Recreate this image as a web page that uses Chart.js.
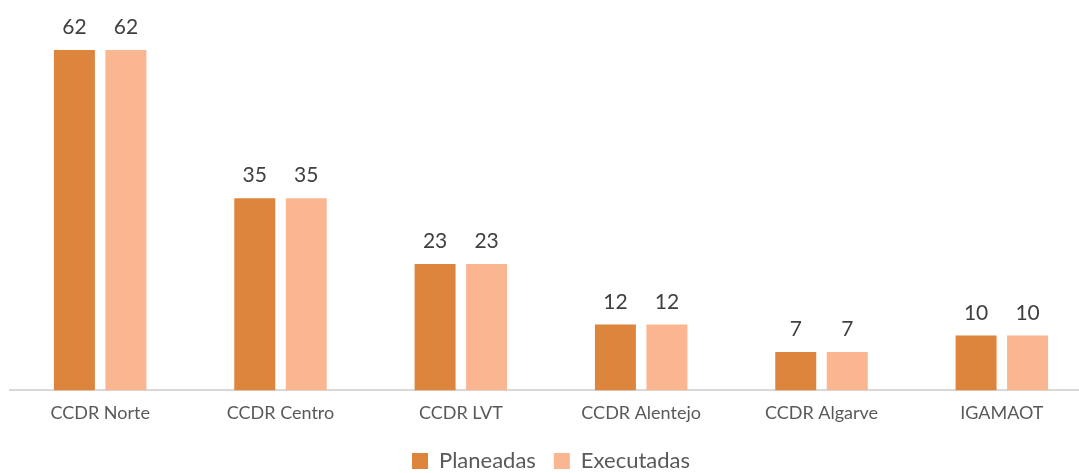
<!DOCTYPE html>
<html>
<head>
<meta charset="utf-8">
<script src="https://cdn.jsdelivr.net/npm/chart.js@4"></script>
<style>
    html, body { margin: 0; padding: 0; background: #fff; overflow: hidden; }
    /* the original chart is cut on the right and bottom, so the canvas is bigger than the window */
    #wrap { width: 1092px; height: 482px; position: relative; }
</style>
</head>
<body>
<div id="wrap"><canvas id="fiscChart"></canvas></div>
<script>
// categorias e valores
var categories = ['CCDR Norte', 'CCDR Centro', 'CCDR LVT', 'CCDR Alentejo', 'CCDR Algarve', 'IGAMAOT'];
var planeadas = [62, 35, 23, 12, 7, 10];
var executadas = [62, 35, 23, 12, 7, 10];

var fontFamily = 'Lato, "Open Sans", sans-serif';

//plugin to write the value on top of each bar
var valueLabels = {
    id: 'valueLabels',
    afterDatasetsDraw: function (chart) {
        var ctx = chart.ctx;
        ctx.save();
        ctx.font = '21px ' + fontFamily;
        ctx.fillStyle = '#404040';
        ctx.textAlign = 'center';
        ctx.textBaseline = 'bottom';
        chart.data.datasets.forEach(function (ds, i) {
            chart.getDatasetMeta(i).data.forEach(function (bar, j) {
                ctx.fillText(ds.data[j], bar.x, bar.y - 12);
            });
        });
        ctx.restore();
    }
};

var ctx = document.getElementById('fiscChart').getContext('2d');
var myBarChart = new Chart(ctx, {
    type: 'bar',
    data: {
        labels: categories,
        datasets: [{
            label: 'Planeadas',
            data: planeadas,
            backgroundColor: '#DD843D',
            categoryPercentage: 0.571,
            barPercentage: 0.796
        }, {
            label: 'Executadas',
            data: executadas,
            backgroundColor: '#F9B691',
            categoryPercentage: 0.571,
            barPercentage: 0.796
        }]
    },
    options: {
        responsive: true,
        maintainAspectRatio: false,
        animation: false,
        layout: {
            padding: { left: 10, right: 0, top: 6, bottom: 0 }
        },
        scales: {
            x: {
                grid: { display: false },
                border: { display: true, color: '#D9D9D9', width: 2 },
                ticks: {
                    color: '#595959',
                    font: { family: fontFamily, size: 18 },
                    padding: 4
                },
                // a little room between the labels and the legend
                afterFit: function (scale) {
                    scale.height += 4;
                }
            },
            y: {
                display: false,
                beginAtZero: true,
                min: 0,
                max: 70
            }
        },
        plugins: {
            legend: {
                position: 'bottom',
                labels: {
                    color: '#595959',
                    font: { family: fontFamily, size: 22 },
                    boxWidth: 16,
                    boxHeight: 16,
                    padding: 18
                }
            },
            tooltip: { enabled: false }
        }
    },
    plugins: [valueLabels]
});
</script>
</body>
</html>
